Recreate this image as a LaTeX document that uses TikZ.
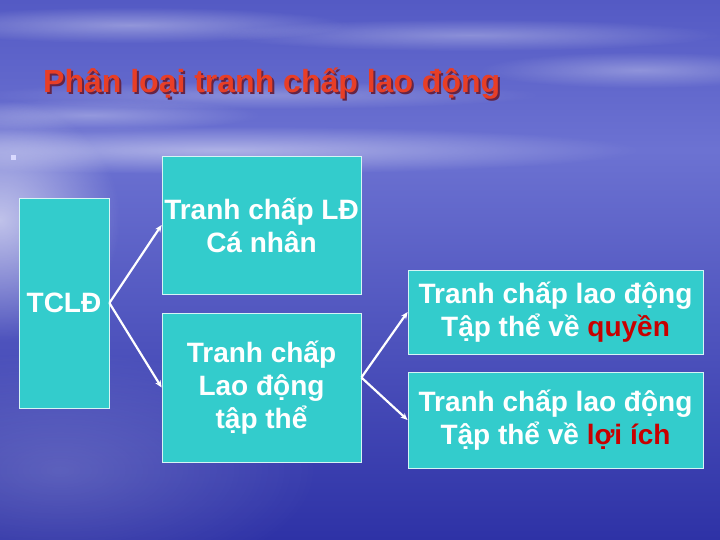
\documentclass[tikz,border=0pt]{standalone}
\usepackage{fontspec}
\setmainfont{Liberation Sans}
\usetikzlibrary{arrows.meta,fadings}

\definecolor{boxfill}{RGB}{51,204,204}
\definecolor{titlered}{RGB}{232,62,38}
\definecolor{titleshade}{RGB}{100,36,70}
\definecolor{wordred}{RGB}{200,0,0}
\definecolor{skytop}{RGB}{84,90,196}
\definecolor{horizon}{RGB}{108,114,210}
\definecolor{seabottom}{RGB}{46,50,166}

\tikzfading[name=softglow, inner color=transparent!0, outer color=transparent!100]

\newcommand{\shadowtext}[1]{\makebox[0pt][l]{\hspace{2pt}\raisebox{-2pt}{\textcolor{titleshade}{#1}}}#1}

\tikzset{
  kbox/.style={draw=white!80!boxfill, line width=0.8pt, fill=boxfill, text=white,
    font=\bfseries\fontsize{28}{33}\selectfont, align=center, inner sep=0pt},
  link/.style={white, line width=2.2pt, -{Stealth[length=7pt,width=6pt]}},
  streak/.style={white, path fading=softglow}
}

\begin{document}
\begin{tikzpicture}[x=1pt,y=1pt]
  \useasboundingbox (0,0) rectangle (720,540);
  % sky
  \shade[top color=skytop, bottom color=horizon] (0,390) rectangle (720,540);
  \fill[streak, opacity=.35] (130,515) ellipse (220 and 18);
  \fill[streak, opacity=.3] (470,505) ellipse (250 and 16);
  \fill[streak, opacity=.3] (640,470) ellipse (160 and 18);
  \fill[streak, opacity=.25] (260,445) ellipse (280 and 14);
  \fill[streak, opacity=.3] (90,425) ellipse (170 and 16);
  % sea
  \shade[top color=horizon, bottom color=seabottom] (0,0) rectangle (720,390);
  \fill[streak, opacity=.45] (220,390) ellipse (420 and 24);
  \fill[streak, opacity=.6] (0,320) ellipse (120 and 120);
  \fill[streak, opacity=.18] (60,70) ellipse (260 and 120);

  % title
  \node[anchor=base west, inner sep=0pt, text=titlered, font=\bfseries\fontsize{32}{38}\selectfont] (title) at (43,447) {\shadowtext{Phân loại tranh chấp lao động}};

  % bullet
  \fill[white!85!blue] (11,380) rectangle (16,385);

  % boxes
  \node[kbox, minimum width=90pt, minimum height=210pt] (tcld) at (64,237) {TCLĐ};
  \node[kbox, minimum width=199pt, minimum height=138pt] (canhan) at (261.5,315) {Tranh chấp LĐ\\Cá nhân};
  \node[kbox, minimum width=199pt, minimum height=149pt] (tapthe) at (261.5,152.5) {Tranh chấp\\Lao động\\tập thể};
  \node[kbox, minimum width=295pt, minimum height=84pt] (quyen) at (555.5,228) {Tranh chấp lao động\\Tập thể về \textcolor{wordred}{quyền}};
  \node[kbox, minimum width=295pt, minimum height=96pt] (loiich) at (555.5,120) {Tranh chấp lao động\\Tập thể về \textcolor{wordred}{lợi ích}};

  % arrows
  \coordinate (split) at ([yshift=10pt]tapthe.east);
  \draw[link] (tcld.east) -- (canhan.west);
  \draw[link] (tcld.east) -- (tapthe.west);
  \draw[link] (split) -- (quyen.west);
  \draw[link] (split) -- (loiich.west);
\end{tikzpicture}
\end{document}
